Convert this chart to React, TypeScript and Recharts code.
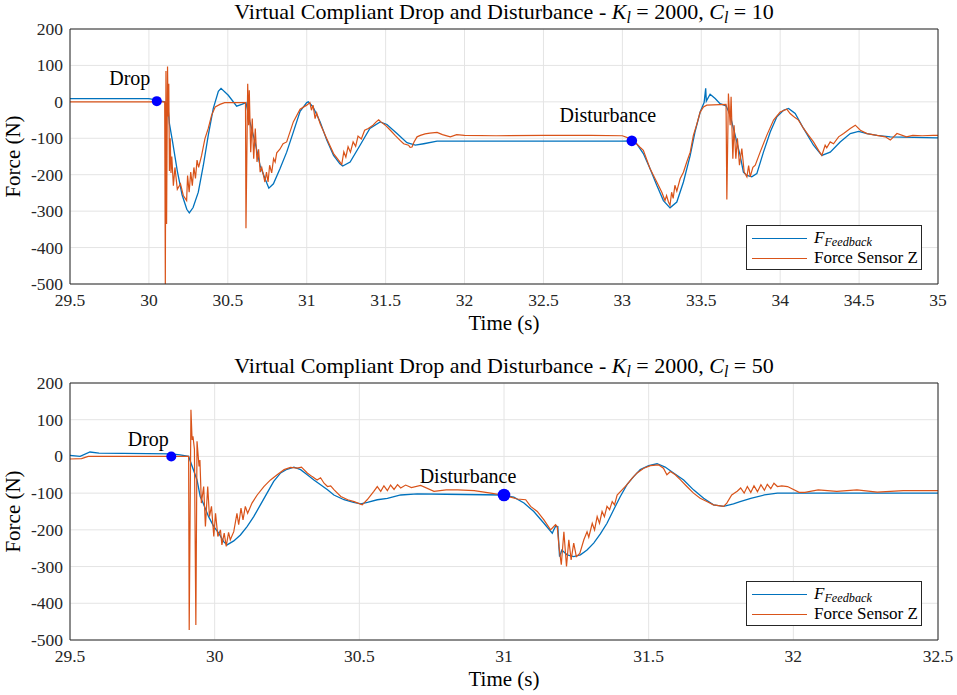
import React from "react";
import { CartesianGrid, Legend, Line, LineChart, ReferenceDot, XAxis, YAxis } from "recharts";

// MATLAB-style look: serif text, dark box with inward ticks, faint grid.
const FONT = '"Liberation Serif", "Times New Roman", serif';
const AXIS = "#262626";
const GRID = "#e4e4e4";
const FEEDBACK_COLOR = "#0072BD";
const SENSOR_COLOR = "#D95319";
const MARKER_COLOR = "#0000FF";

const forceTicks = [-500, -400, -300, -200, -100, 0, 100, 200];
const topTimeTicks = [29.5, 30, 30.5, 31, 31.5, 32, 32.5, 33, 33.5, 34, 34.5, 35];
const bottomTimeTicks = [29.5, 30, 30.5, 31, 31.5, 32, 32.5];

// [time (s), force (N)] — K_l = 2000, C_l = 10
const topFeedback: [number, number][] = [
  [29.5, 9], [29.8, 9], [30.0, 9], [30.05, 5], [30.1, 0], [30.12, -10], [30.13, -60], [30.15, -110],
  [30.18, -190], [30.21, -255], [30.24, -295], [30.256, -305], [30.28, -290], [30.313, -248],
  [30.345, -174], [30.376, -92], [30.408, -18], [30.44, 29], [30.457, 37], [30.503, 18], [30.556, -12],
  [30.588, -7], [30.615, -2], [30.64, -55], [30.672, -110], [30.704, -174], [30.736, -211], [30.76, -237],
  [30.789, -225], [30.831, -183], [30.873, -138], [30.915, -83], [30.958, -26], [31.0, -2], [31.01, 0],
  [31.04, -14], [31.085, -55], [31.127, -105], [31.17, -147], [31.21, -170], [31.228, -176], [31.275, -165],
  [31.338, -119], [31.4, -73], [31.465, -55], [31.508, -62], [31.572, -87], [31.635, -112], [31.688, -119],
  [31.741, -115], [31.826, -108], [32.5, -108], [33.0, -108], [33.059, -107], [33.09, -115], [33.133, -142],
  [33.175, -183], [33.218, -229], [33.26, -271], [33.302, -291], [33.345, -275], [33.387, -220],
  [33.43, -147], [33.46, -83], [33.493, -28], [33.518, -2], [33.528, 37], [33.532, 2], [33.556, 21],
  [33.588, 9], [33.619, -5], [33.657, -11], [33.683, -37], [33.715, -92], [33.746, -147], [33.767, -193],
  [33.789, -202], [33.82, -206], [33.852, -197], [33.894, -138], [33.937, -83], [33.979, -41],
  [34.021, -23], [34.053, -18], [34.095, -32], [34.148, -73], [34.211, -119], [34.264, -147],
  [34.317, -138], [34.38, -110], [34.444, -87], [34.497, -81], [34.55, -87], [34.613, -92], [34.698, -96],
  [35.0, -99],
];

const topSensor: [number, number][] = [
  [29.5, 0], [30.0, 0], [30.1, 0], [30.104, -500], [30.108, 85], [30.112, -335], [30.118, 97],
  [30.122, -40], [30.126, 50], [30.13, -190], [30.135, -100], [30.14, -195], [30.145, -150],
  [30.155, -230], [30.165, -180], [30.18, -240], [30.2, -225], [30.218, -257], [30.239, -271],
  [30.245, -202], [30.255, -248], [30.265, -193], [30.275, -230], [30.285, -180], [30.295, -210],
  [30.305, -160], [30.315, -180], [30.334, -147], [30.355, -101], [30.376, -73], [30.397, -37],
  [30.42, -14], [30.45, -7], [30.48, -2], [30.612, -2], [30.615, -347], [30.626, 50], [30.632, -64],
  [30.636, 32], [30.645, -138], [30.655, -46], [30.664, -156], [30.674, -73], [30.685, -165],
  [30.695, -130], [30.705, -193], [30.715, -180], [30.735, -220], [30.745, -193], [30.755, -220],
  [30.765, -174], [30.778, -195], [30.79, -156], [30.8, -165], [30.81, -140], [30.83, -130],
  [30.85, -115], [30.873, -110], [30.915, -55], [30.958, -20], [31.0, -9], [31.02, -2], [31.03, -23],
  [31.04, -9], [31.053, -46], [31.063, -30], [31.085, -60], [31.127, -101], [31.17, -142], [31.21, -165],
  [31.222, -172], [31.235, -137], [31.248, -152], [31.262, -123], [31.277, -138], [31.294, -110],
  [31.31, -122], [31.325, -94], [31.346, -102], [31.367, -78], [31.39, -73], [31.42, -64], [31.44, -55],
  [31.456, -49], [31.47, -55], [31.498, -64], [31.53, -78], [31.56, -92], [31.59, -105], [31.614, -115],
  [31.645, -119], [31.655, -125], [31.667, -124], [31.68, -110], [31.699, -96], [31.72, -92],
  [31.75, -88], [31.78, -86], [31.826, -84], [31.86, -90], [31.91, -96], [31.95, -90], [32.0, -92],
  [32.2, -93], [32.5, -92], [32.8, -92], [33.0, -93], [33.049, -101], [33.09, -115], [33.11, -124],
  [33.133, -133], [33.175, -183], [33.218, -220], [33.25, -248], [33.27, -271], [33.28, -257],
  [33.292, -275], [33.302, -284], [33.312, -248], [33.322, -265], [33.333, -229], [33.345, -245],
  [33.366, -211], [33.387, -193], [33.408, -165], [33.43, -138], [33.45, -92], [33.47, -64],
  [33.493, -28], [33.514, -14], [33.535, -9], [33.657, -7], [33.662, -268], [33.672, 23], [33.683, -64],
  [33.689, 14], [33.7, -156], [33.708, -64], [33.719, -156], [33.729, -100], [33.742, -174],
  [33.757, -128], [33.772, -193], [33.789, -206], [33.8, -175], [33.81, -206], [33.827, -180],
  [33.842, -174], [33.873, -138], [33.915, -92], [33.958, -50], [34.0, -28], [34.042, -20],
  [34.063, -32], [34.085, -40], [34.116, -50], [34.148, -73], [34.18, -92], [34.211, -110],
  [34.243, -133], [34.264, -147], [34.285, -119], [34.295, -126], [34.317, -110], [34.338, -115],
  [34.37, -96], [34.402, -87], [34.444, -73], [34.476, -64], [34.508, -78], [34.55, -87], [34.613, -92],
  [34.666, -96], [34.698, -105], [34.74, -87], [34.8, -96], [34.84, -92], [34.9, -93], [34.97, -92],
  [35.0, -92],
];

// K_l = 2000, C_l = 50
const bottomFeedback: [number, number][] = [
  [29.5, 3], [29.535, 0], [29.569, 12], [29.6, 9], [29.85, 7], [29.88, 4], [29.91, 0], [29.939, -64],
  [29.95, -109], [29.96, -127], [29.979, -164], [29.997, -191], [30.014, -209], [30.031, -232],
  [30.043, -241], [30.066, -230], [30.089, -214], [30.112, -191], [30.135, -164], [30.158, -132],
  [30.181, -100], [30.204, -68], [30.228, -45], [30.25, -35], [30.274, -29], [30.297, -36], [30.32, -50],
  [30.343, -64], [30.366, -77], [30.39, -91], [30.412, -105], [30.447, -118], [30.48, -125],
  [30.505, -129], [30.528, -125], [30.562, -118], [30.597, -114], [30.643, -105], [30.7, -102],
  [30.8, -103], [30.995, -105], [31.034, -111], [31.069, -127], [31.103, -150], [31.138, -182],
  [31.167, -209], [31.172, -200], [31.178, -191], [31.186, -191], [31.192, -273], [31.2, -255],
  [31.218, -268], [31.241, -273], [31.264, -268], [31.287, -255], [31.31, -236], [31.333, -211],
  [31.356, -182], [31.379, -145], [31.402, -109], [31.425, -77], [31.448, -55], [31.471, -36],
  [31.5, -25], [31.529, -20], [31.557, -29], [31.586, -45], [31.621, -64], [31.655, -91], [31.69, -114],
  [31.724, -132], [31.759, -136], [31.793, -129], [31.816, -123], [31.853, -114], [31.9, -105],
  [31.945, -100], [32.5, -100],
];

const bottomSensor: [number, number][] = [
  [29.5, -7], [29.54, -6], [29.563, 0], [29.91, 0], [29.912, -473], [29.918, 127], [29.922, 45],
  [29.925, 55], [29.93, 20], [29.935, -459], [29.939, 41], [29.946, -27], [29.949, -10], [29.954, -127],
  [29.962, -82], [29.968, -191], [29.976, -82], [29.982, -164], [29.989, -136], [29.997, -218],
  [30.003, -155], [30.011, -218], [30.02, -200], [30.025, -241], [30.033, -209], [30.04, -245],
  [30.048, -207], [30.054, -227], [30.066, -205], [30.077, -155], [30.083, -186], [30.091, -141],
  [30.098, -173], [30.106, -136], [30.114, -155], [30.129, -127], [30.147, -105], [30.17, -82],
  [30.193, -64], [30.216, -50], [30.24, -36], [30.262, -30], [30.285, -32], [30.3, -29], [30.32, -45],
  [30.337, -55], [30.354, -64], [30.366, -58], [30.378, -73], [30.39, -82], [30.401, -80], [30.413, -91],
  [30.436, -109], [30.46, -118], [30.482, -123], [30.51, -132], [30.527, -118], [30.55, -95],
  [30.562, -82], [30.574, -95], [30.585, -80], [30.597, -93], [30.608, -78], [30.62, -90], [30.632, -77],
  [30.643, -86], [30.66, -78], [30.68, -85], [30.712, -79], [30.758, -95], [30.8, -91], [30.84, -91],
  [30.897, -93], [30.954, -100], [30.995, -105], [31.023, -111], [31.046, -116], [31.075, -118],
  [31.092, -136], [31.115, -150], [31.138, -173], [31.161, -200], [31.178, -186], [31.184, -191],
  [31.19, -245], [31.198, -295], [31.207, -205], [31.216, -300], [31.224, -227], [31.232, -282],
  [31.241, -236], [31.25, -273], [31.262, -264], [31.276, -227], [31.287, -205], [31.293, -220],
  [31.305, -182], [31.313, -200], [31.322, -164], [31.33, -182], [31.339, -150], [31.347, -164],
  [31.356, -136], [31.365, -145], [31.374, -123], [31.382, -132], [31.391, -105], [31.408, -91],
  [31.425, -77], [31.443, -59], [31.46, -45], [31.483, -32], [31.506, -25], [31.534, -23], [31.551, -32],
  [31.563, -50], [31.575, -41], [31.592, -50], [31.61, -64], [31.632, -82], [31.655, -100],
  [31.678, -114], [31.701, -123], [31.724, -132], [31.759, -136], [31.77, -127], [31.787, -105],
  [31.806, -95], [31.818, -86], [31.83, -100], [31.841, -82], [31.853, -98], [31.864, -80],
  [31.876, -96], [31.888, -77], [31.9, -92], [31.91, -76], [31.922, -88], [31.933, -73], [31.945, -82],
  [31.96, -80], [31.98, -82], [32.02, -98], [32.04, -98], [32.086, -91], [32.15, -95], [32.22, -91],
  [32.29, -97], [32.38, -93], [32.5, -93],
];

// annotated instants: [time, force]
const topEventLabels = ["Drop", "Disturbance"];
const topEvents: [number, number][] = [[30.05, 2], [33.06, -107]];
const bottomEventLabels = ["Drop", "Disturbance"];
const bottomEvents: [number, number][] = [[29.85, 0], [31.0, -105]];

const toPoints = (rows: [number, number][]) => rows.map(([t, v]) => ({ t, v }));

type EventStyle = { r: number; dx: number; dy: number };

interface PanelProps {
  top: number;
  height: number;
  plotTop: number;
  plotBottom: number;
  xLabelOffset: number;
  domain: [number, number];
  ticks: number[];
  feedback: [number, number][];
  sensor: [number, number][];
  events: [number, number][];
  eventLabels: string[];
  eventStyles: EventStyle[];
  damping: number;
  legendTop: number;
}

const tickStyle = { fontFamily: FONT, fontSize: 17.5, fill: AXIS };

// custom ticks so the serif face actually reaches the SVG text
function TimeTick({ x, y, payload }: any) {
  return (
    <text x={x} y={y} dy="0.71em" textAnchor="middle" fontFamily={FONT} style={tickStyle}>
      {payload.value}
    </text>
  );
}

function ForceTick({ x, y, payload }: any) {
  return (
    <text x={x} y={y} dy="0.34em" textAnchor="end" fontFamily={FONT} style={tickStyle}>
      {payload.value}
    </text>
  );
}

function Subscript({ children }: { children: React.ReactNode }) {
  return (
    <span style={{ fontSize: "0.72em", fontStyle: "italic", verticalAlign: "-0.28em", lineHeight: 0 }}>
      {children}
    </span>
  );
}

function LegendBox() {
  const row = (color: string, label: React.ReactNode) => (
    <div style={{ display: "flex", alignItems: "center", height: 20 }}>
      <div style={{ width: 55, height: 0, borderTop: `1.3px solid ${color}`, marginLeft: 5, marginRight: 7 }} />
      <span>{label}</span>
    </div>
  );
  return (
    <div
      style={{
        boxSizing: "border-box",
        width: 176,
        height: 45,
        border: `1px solid ${AXIS}`,
        background: "#fff",
        fontFamily: FONT,
        fontSize: 17,
        color: "#000",
        lineHeight: "20px",
        paddingTop: 2,
      }}
    >
      {row(
        FEEDBACK_COLOR,
        <>
          <i>F</i>
          <Subscript>Feedback</Subscript>
        </>,
      )}
      {row(SENSOR_COLOR, "Force Sensor Z")}
    </div>
  );
}

function ForcePanel(p: PanelProps) {
  const xAxisHeight = p.height - p.plotBottom;
  return (
    <div style={{ position: "absolute", left: 0, top: p.top, width: 957, height: p.height, fontFamily: FONT }}>
      <div
        style={{
          position: "absolute",
          left: 70,
          width: 868,
          top: p.plotTop - 29,
          textAlign: "center",
          fontSize: 22,
          lineHeight: "24px",
          color: "#000",
          whiteSpace: "nowrap",
        }}
      >
        Virtual Compliant Drop and Disturbance - <i>K</i>
        <Subscript>l</Subscript> = 2000, <i>C</i>
        <Subscript>l</Subscript> = {p.damping}
      </div>
      <LineChart width={957} height={p.height} margin={{ top: p.plotTop, right: 19, bottom: 0, left: 0 }}>
        <CartesianGrid xAxisId="x" yAxisId="y" stroke={GRID} />
        <XAxis
          xAxisId="x"
          dataKey="t"
          type="number"
          domain={p.domain}
          ticks={p.ticks}
          allowDataOverflow
          height={xAxisHeight}
          tickLine={false}
          tickSize={0}
          tickMargin={10}
          tick={<TimeTick />}
          stroke={AXIS}
          label={{
            value: "Time (s)",
            position: "insideBottom",
            offset: p.xLabelOffset,
            style: { fontFamily: FONT, fontSize: 21, fill: "#000" },
          }}
        />
        <XAxis xAxisId="xin" type="number" domain={p.domain} ticks={p.ticks} mirror tick={false} tickSize={8} axisLine={false} stroke={AXIS} />
        <XAxis xAxisId="xtop" orientation="top" type="number" domain={p.domain} ticks={p.ticks} mirror tick={false} tickSize={8} stroke={AXIS} />
        <YAxis
          yAxisId="y"
          type="number"
          domain={[-500, 200]}
          ticks={forceTicks}
          allowDataOverflow
          width={70}
          tickLine={false}
          tickSize={0}
          tickMargin={7}
          tick={<ForceTick />}
          stroke={AXIS}
          label={{
            content: ({ viewBox }: any) => (
              <text
                x={19.5}
                y={viewBox.y + viewBox.height / 2}
                transform={`rotate(-90, 19.5, ${viewBox.y + viewBox.height / 2})`}
                textAnchor="middle"
                style={{ fontFamily: FONT, fontSize: 21, fill: "#000" }}
              >
                Force (N)
              </text>
            ),
          }}
        />
        <YAxis yAxisId="yin" type="number" domain={[-500, 200]} ticks={forceTicks} mirror tick={false} tickSize={8} axisLine={false} stroke={AXIS} />
        <YAxis yAxisId="yright" orientation="right" type="number" domain={[-500, 200]} ticks={forceTicks} mirror tick={false} tickSize={8} stroke={AXIS} />
        <Line
          xAxisId="x"
          yAxisId="y"
          data={toPoints(p.feedback)}
          dataKey="v"
          type="linear"
          stroke={FEEDBACK_COLOR}
          strokeWidth={1.3}
          dot={false}
          isAnimationActive={false}
        />
        <Line
          xAxisId="x"
          yAxisId="y"
          data={toPoints(p.sensor)}
          dataKey="v"
          type="linear"
          stroke={SENSOR_COLOR}
          strokeWidth={1.2}
          dot={false}
          isAnimationActive={false}
        />
        {p.events.map(([t, f], i) => {
          const s = p.eventStyles[i];
          return (
            <ReferenceDot
              key={p.eventLabels[i]}
              xAxisId="x"
              yAxisId="y"
              x={t}
              y={f}
              r={s.r}
              shape={(props: any) => (
                <g>
                  <circle cx={props.cx} cy={props.cy} r={s.r} fill={MARKER_COLOR} />
                  <text
                    x={props.cx + s.dx}
                    y={props.cy + s.dy}
                    textAnchor="middle"
                    style={{ fontFamily: FONT, fontSize: 20, fill: "#000" }}
                  >
                    {p.eventLabels[i]}
                  </text>
                </g>
              )}
            />
          );
        })}
        <Legend
          layout="horizontal"
          verticalAlign="middle"
          align="center"
          wrapperStyle={{ left: 746, top: p.legendTop, width: 176, height: 45 }}
          content={() => <LegendBox />}
        />
      </LineChart>
    </div>
  );
}

export default function App() {
  return (
    <div style={{ position: "absolute", left: 0, top: 0, width: 957, height: 695, background: "#fff" }}>
      <ForcePanel
        top={0}
        height={345}
        plotTop={29}
        plotBottom={284}
        xLabelOffset={15}
        domain={[29.5, 35]}
        ticks={topTimeTicks}
        feedback={topFeedback}
        sensor={topSensor}
        events={topEvents}
        eventLabels={topEventLabels}
        eventStyles={[
          { r: 5, dx: -27, dy: -16 },
          { r: 5.3, dx: -24, dy: -19 },
        ]}
        damping={10}
        legendTop={225}
      />
      <ForcePanel
        top={345}
        height={350}
        plotTop={38}
        plotBottom={295}
        xLabelOffset={9}
        domain={[29.5, 32.5]}
        ticks={bottomTimeTicks}
        feedback={bottomFeedback}
        sensor={bottomSensor}
        events={bottomEvents}
        eventLabels={bottomEventLabels}
        eventStyles={[
          { r: 5, dx: -23, dy: -10 },
          { r: 6.3, dx: -36, dy: -12 },
        ]}
        damping={50}
        legendTop={236}
      />
    </div>
  );
}
